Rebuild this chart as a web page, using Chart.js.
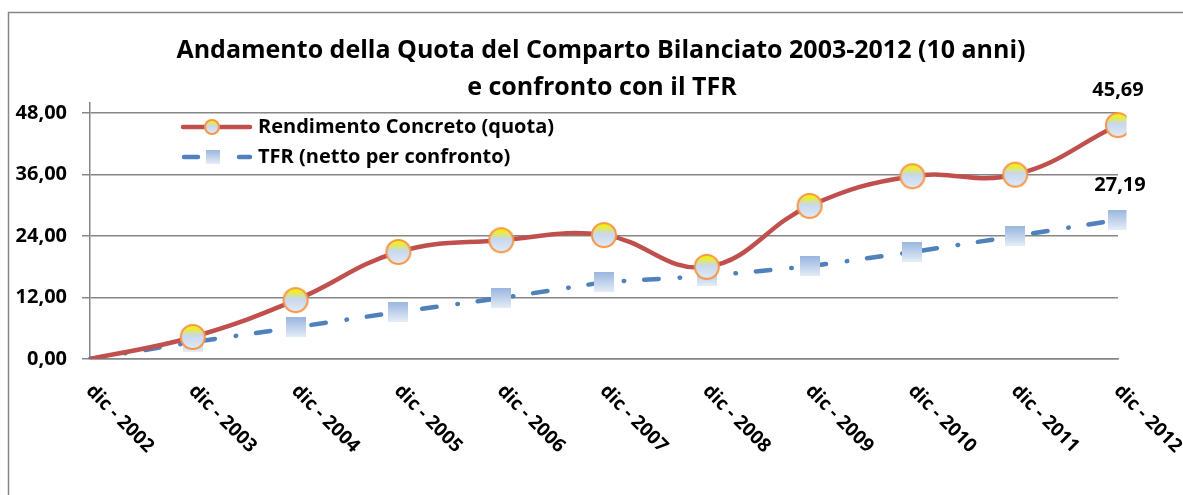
<!DOCTYPE html>
<html>
<head>
<meta charset="utf-8">
<script src="https://cdn.jsdelivr.net/npm/chart.js@4.4.1/dist/chart.umd.min.js"></script>
<style>
  html, body { margin: 0; padding: 0; background: #ffffff; }
  #wrap { width: 1183px; height: 495px; }
</style>
</head>
<body>
<div id="wrap"><canvas id="chart"></canvas></div>
<script>
// dati
const labels = ['dic - 2002', 'dic - 2003', 'dic - 2004', 'dic - 2005', 'dic - 2006', 'dic - 2007',
                'dic - 2008', 'dic - 2009', 'dic - 2010', 'dic - 2011', 'dic - 2012'];
const quotaValues = [0, 4.3, 11.5, 20.9, 23.2, 24.2, 18.0, 29.9, 35.7, 36.0, 45.69];
const tfrValues = [0, 3.3, 6.2, 9.2, 11.9, 15.0, 16.2, 18.1, 20.9, 24.0, 27.19];
const yTicks = [0, 12, 24, 36, 48];
const titleLines = ['Andamento della Quota del Comparto Bilanciato 2003-2012 (10 anni)', 'e confronto con il TFR'];
const seriesNames = ['Rendimento Concreto (quota)', 'TFR (netto per confronto)'];

const FONT = '"Open Sans", sans-serif';
const RED = '#C0504D';
const BLUE = '#4F81BD';

function fmt(v) {
    return v.toFixed(2).replace('.', ',');
}

// marker images
function circleMarker(r) {
    const c = document.createElement('canvas');
    const s = r * 2 + 4;
    c.width = s; c.height = s;
    const g = c.getContext('2d');
    const grad = g.createLinearGradient(0, 2, 0, s - 2);
    grad.addColorStop(0, '#f2f200');
    grad.addColorStop(0.12, '#f0f020');
    grad.addColorStop(0.45, '#c8d8ee');
    grad.addColorStop(1, '#e2eaf6');
    g.beginPath();
    g.arc(s / 2, s / 2, r, 0, Math.PI * 2);
    g.fillStyle = grad;
    g.fill();
    g.lineWidth = 2;
    g.strokeStyle = '#F79646';
    g.stroke();
    return c;
}

function squareMarker(size) {
    const c = document.createElement('canvas');
    c.width = size; c.height = size;
    const g = c.getContext('2d');
    const grad = g.createLinearGradient(0, 0, 0, size);
    grad.addColorStop(0, '#9ab6df');
    grad.addColorStop(1, '#e6edf8');
    g.fillStyle = grad;
    g.fillRect(0, 0, size, size);
    return c;
}

const bigCircle = circleMarker(12);
const bigSquare = squareMarker(20);
const smallCircle = circleMarker(7);
const smallSquare = squareMarker(14);

const extrasPlugin = {
    id: 'extras',
    beforeDraw(chart) {
        const ctx = chart.ctx;
        ctx.save();
        ctx.strokeStyle = '#868686';
        ctx.lineWidth = 1.5;
        ctx.strokeRect(8.5, 12.5, 1200, 600);
        ctx.restore();
    },
    afterDraw(chart) {
        const ctx = chart.ctx;
        const xs = chart.scales.x;
        const ys = chart.scales.y;
        ctx.save();
        ctx.fillStyle = '#000';

        // titolo
        ctx.font = 'bold 25px ' + FONT;
        ctx.textAlign = 'center';
        ctx.textBaseline = 'middle';
        ctx.fillText(titleLines[0], 601, 51);
        ctx.fillText(titleLines[1], 602, 88);

        // etichette asse x ruotate
        ctx.font = 'bold 19px ' + FONT;
        ctx.textAlign = 'left';
        labels.forEach((lab, i) => {
            const x = xs.getPixelForValue(i);
            ctx.save();
            ctx.translate(x - 1, 388);
            ctx.rotate(Math.PI / 4);
            ctx.fillText(lab, 0, 0);
            ctx.restore();
        });

        // etichette ultimo valore
        ctx.font = 'bold 20px ' + FONT;
        ctx.textAlign = 'center';
        const last = labels.length - 1;
        const lx = xs.getPixelForValue(last);
        ctx.fillText(fmt(quotaValues[last]), lx, ys.getPixelForValue(quotaValues[last]) - 35);
        ctx.fillText(fmt(tfrValues[last]), lx + 2, ys.getPixelForValue(tfrValues[last]) - 34);

        // legenda
        ctx.font = 'bold 20px ' + FONT;
        ctx.textAlign = 'left';
        ctx.lineCap = 'round';
        const ly1 = 127, ly2 = 157;
        ctx.strokeStyle = RED;
        ctx.lineWidth = 4.5;
        ctx.beginPath();
        ctx.moveTo(183, ly1);
        ctx.lineTo(250, ly1);
        ctx.stroke();
        ctx.drawImage(smallCircle, 212 - smallCircle.width / 2, ly1 - smallCircle.height / 2);
        ctx.strokeStyle = BLUE;
        ctx.beginPath();
        ctx.moveTo(184, ly2); ctx.lineTo(198, ly2);
        ctx.moveTo(239, ly2); ctx.lineTo(250, ly2);
        ctx.stroke();
        ctx.drawImage(smallSquare, 213 - smallSquare.width / 2, ly2 - smallSquare.height / 2);
        ctx.fillText(seriesNames[0], 258, ly1);
        ctx.fillText(seriesNames[1], 258, ly2);
        ctx.restore();
    }
};

const chart = new Chart(document.getElementById('chart'), {
    type: 'line',
    data: {
        labels: labels,
        datasets: [
            {
                label: seriesNames[1],
                data: tfrValues,
                borderColor: BLUE,
                borderWidth: 4.5,
                borderDash: [14.5, 21, 0.5, 20],
                borderCapStyle: 'round',
                tension: 0,
                pointStyle: ctx => ctx.dataIndex === 0 ? false : bigSquare,
                order: 2
            },
            {
                label: seriesNames[0],
                data: quotaValues,
                borderColor: RED,
                borderWidth: 4.5,
                tension: 0.42,
                pointStyle: ctx => ctx.dataIndex === 0 ? false : bigCircle,
                order: 1
            }
        ]
    },
    options: {
        responsive: true,
        maintainAspectRatio: false,
        animation: false,
        layout: { padding: { top: 103, right: 65, left: 0, bottom: 0 } },
        plugins: {
            legend: { display: false },
            title: { display: false },
            tooltip: { enabled: false }
        },
        scales: {
            x: {
                offset: false,
                grid: { display: false, drawTicks: false },
                border: { display: true, color: '#868686', width: 1.5 },
                ticks: { display: false },
                afterFit: s => { s.height = 136; }
            },
            y: {
                min: 0,
                max: 50,
                afterBuildTicks: s => { s.ticks = yTicks.map(v => ({ value: v })); },
                afterFit: s => { s.width = 90; },
                grid: { color: '#868686', lineWidth: 1.5, tickLength: 8 },
                border: { display: true, color: '#868686', width: 1.5 },
                ticks: {
                    padding: 15,
                    color: '#000',
                    font: { family: FONT, size: 20, weight: 'bold' },
                    callback: v => fmt(v)
                }
            }
        }
    },
    plugins: [extrasPlugin]
});
</script>
</body>
</html>
